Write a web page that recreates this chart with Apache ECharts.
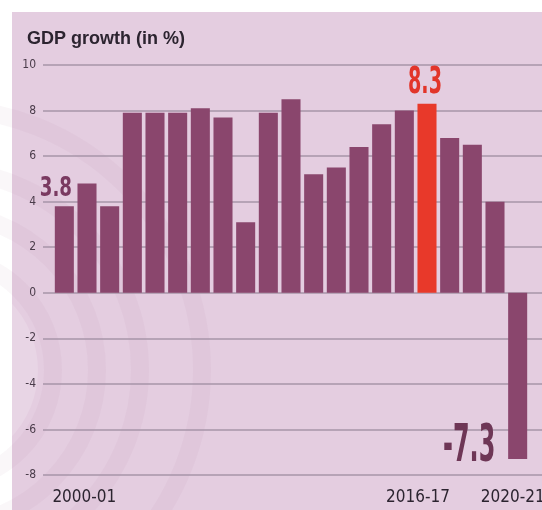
<!DOCTYPE html>
<html>
<head>
<meta charset="utf-8">
<script src="https://cdn.jsdelivr.net/npm/echarts@6/dist/echarts.min.js"></script>
<style>
html,body{margin:0;padding:0;background:#ffffff;}
#c{width:542px;height:510px;}
</style>
</head>
<body>
<div id="c"></div>
<script>
const categories = ['2000-01','2001-02','2002-03','2003-04','2004-05','2005-06','2006-07','2007-08','2008-09','2009-10','2010-11','2011-12','2012-13','2013-14','2014-15','2015-16','2016-17','2017-18','2018-19','2019-20','2020-21'];
const growth = [3.8, 4.8, 3.8, 7.9, 7.9, 7.9, 8.1, 7.7, 3.1, 7.9, 8.5, 5.2, 5.5, 6.4, 7.4, 8.0, 8.3, 6.8, 6.5, 4.0, -7.3];
const shownLabels = ['2000-01','2016-17','2020-21'];
const annotated = ['2000-01','2016-17','2020-21'];
const highlightYear = '2016-17';
const yMin = -8, yMax = 10, yStep = 2;

const COND = '"DejaVu Sans Condensed","DejaVu Sans",sans-serif';
const BAR = '#8a466d';
const RED = '#e8392a';

// visual styling of value annotations (not data)
const annStyle = {
  '2000-01': { dx: -8.5, dy: -16.5, size: 26, sx: 0.7, color: '#7a3a61' },
  '2016-17': { dx: -2, dy: -20.5, size: 37, sx: 0.52, color: '#e2352a' },
  '2020-21': { dx: -48.5, dy: -12, size: 52, sx: 0.46, color: '#6e3656' }
};
const labelPad = {'2000-01':[0,0,0,40], '2016-17':[0,18,0,0], '2020-21':[0,10,0,0]};

const barData = growth.map((v, i) => {
  const item = { value: v };
  if (categories[i] === highlightYear) item.itemStyle = { color: RED };
  return item;
});

const annData = annotated.map(c => {
  const i = categories.indexOf(c);
  return [i, growth[i]];
});

const xData = categories.map(c => {
  const o = { value: c };
  if (labelPad[c]) o.textStyle = { padding: labelPad[c] };
  return o;
});

const rings = [113, 157, 200, 262].map(r => ({
  type: 'circle', z: -5, silent: true,
  shape: { cx: -60, cy: 370, r: r },
  style: { stroke: 'rgba(165,115,160,0.06)', lineWidth: 18, fill: null }
}));

const chart = echarts.init(document.getElementById('c'), null, { renderer: 'canvas' });
chart.setOption({
  animation: false,
  backgroundColor: '#ffffff',
  graphic: [
    { type: 'rect', z: -10, silent: true, shape: { x: 12, y: 12, width: 530, height: 498 }, style: { fill: '#e4cde0' } },
    { type: 'circle', z: -6, silent: true, shape: { cx: -60, cy: 370, r: 98 }, style: { fill: 'rgba(255,255,255,0.16)' } }
  ].concat(rings),
  title: {
    text: 'GDP growth (in %)',
    left: 22, top: 25,
    textStyle: { fontFamily: '"Liberation Sans",sans-serif', fontWeight: 'bold', fontSize: 18, color: '#2c2430' }
  },
  grid: [
    { left: 43, right: 0, top: 65, bottom: 35, outerBoundsMode: 'none', containLabel: false },
    { left: 53, right: 13, top: 65, bottom: 35, outerBoundsMode: 'none', containLabel: false }
  ],
  xAxis: [
    { type: 'value', gridIndex: 0, show: false, min: 0, max: 1 },
    {
      type: 'category', gridIndex: 1, data: xData,
      axisLine: { show: false }, axisTick: { show: false },
      axisLabel: {
        interval: (i, v) => shownLabels.indexOf(v) >= 0,
        margin: 14, fontFamily: COND, fontSize: 17, color: '#2c2430'
      },
      splitLine: { show: false }
    }
  ],
  yAxis: [
    {
      type: 'value', gridIndex: 0, min: yMin, max: yMax, interval: yStep,
      axisLine: { show: false }, axisTick: { show: false },
      axisLabel: { margin: 7, fontFamily: COND, fontSize: 12, color: '#4a3c4a' },
      splitLine: { lineStyle: { color: '#a794a8', width: 1.5 } }
    },
    {
      type: 'value', gridIndex: 1, min: yMin, max: yMax, interval: yStep,
      show: false, splitLine: { show: false }
    }
  ],
  series: [
    {
      type: 'bar', xAxisIndex: 1, yAxisIndex: 1,
      data: barData,
      barCategoryGap: '16%',
      itemStyle: { color: BAR },
      label: { show: false }
    },
    {
      type: 'custom', xAxisIndex: 1, yAxisIndex: 1,
      data: annData, z: 5, silent: true,
      renderItem: (params, api) => {
        const idx = api.value(0), v = api.value(1);
        const p = api.coord([idx, v]);
        const s = annStyle[categories[idx]];
        return {
          type: 'text', x: p[0] + s.dx, y: p[1] + s.dy, scaleX: s.sx,
          style: {
            text: v.toFixed(1), fill: s.color, align: 'center', verticalAlign: 'middle',
            font: 'bold ' + s.size + 'px "DejaVu Sans",sans-serif'
          }
        };
      }
    }
  ]
});
</script>
</body>
</html>
